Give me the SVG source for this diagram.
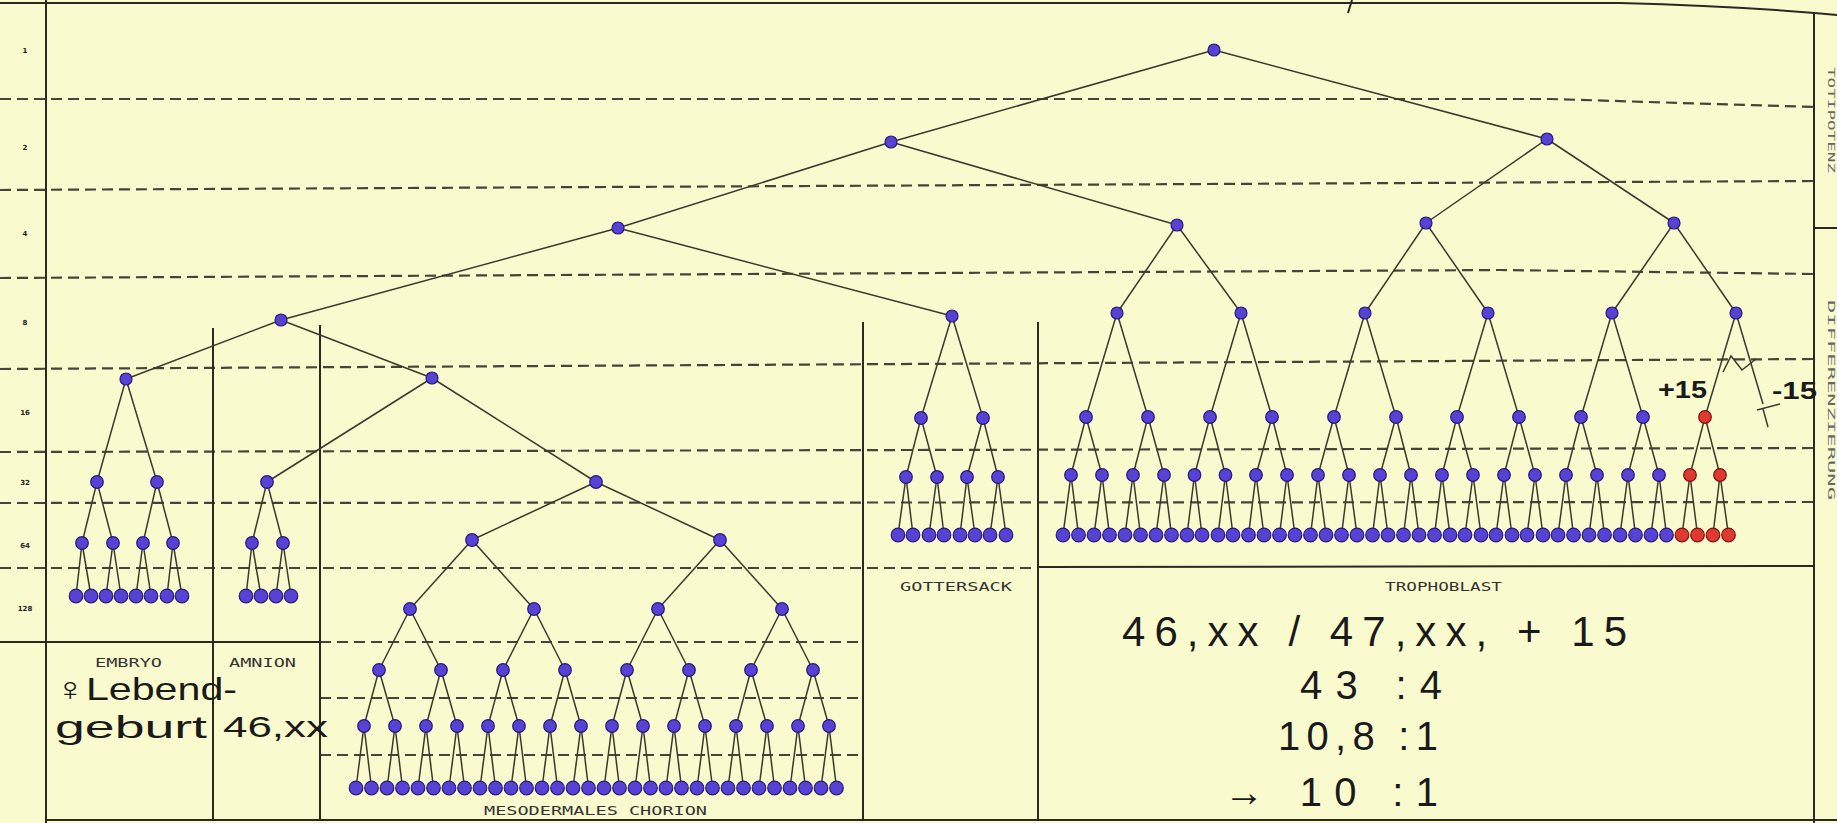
<svg xmlns="http://www.w3.org/2000/svg" width="1837" height="823" viewBox="0 0 1837 823">
<style>
.n{fill:#5842d6;stroke:#261a78;stroke-width:1.2}
.r{fill:#e0392f;stroke:#7a1410;stroke-width:1.2}
.e{stroke:#3a3a2c;stroke-width:1.5;fill:none}
.d{stroke:#44443a;stroke-width:2.2;stroke-dasharray:11 6;fill:none}
.s{stroke:#2a2a22;stroke-width:2;fill:none}
.lbl{font-family:"DejaVu Sans Mono","Liberation Mono",monospace;font-size:12px;fill:#333}
.hw{font-family:"Liberation Sans","DejaVu Sans",sans-serif;fill:#1a1a1a}
.ax{font-family:"DejaVu Sans",sans-serif;font-size:7px;font-weight:bold;fill:#222;text-anchor:middle}
.rt{font-family:"DejaVu Sans Mono",monospace;font-size:9px;fill:#666}
</style>
<rect width="1837" height="823" fill="#fafacf"/>
<g id="grid">
<path class="d" d="M0 99 L1550 99 L1814 107"/>
<path class="d" d="M0 190 L1814 181"/>
<path class="d" d="M0 278 L1500 270 L1814 274"/>
<path class="d" d="M0 369 L1814 359"/>
<path class="d" d="M0 452 L1814 448"/>
<path class="d" d="M0 503 L1814 502"/>
<path class="d" d="M0 568 L1038 568"/>
<path class="d" d="M320 642 L863 642"/>
<path class="d" d="M320 698 L863 698"/>
<path class="d" d="M320 755 L863 755"/>
<path class="s" d="M1038 567 L1814 566"/>
<path class="s" d="M0 642 L320 642"/>
<path class="s" d="M46 0 L46 823"/>
<path class="s" d="M213 328 L213 820"/>
<path class="s" d="M320 325 L320 820"/>
<path class="s" d="M863 322 L863 820"/>
<path class="s" d="M1038 322 L1038 820"/>
<path class="s" d="M1814 12 L1814 823"/>
<path class="s" d="M46 820 L1837 820"/>
<path class="s" stroke-width="3" d="M0 3 L1620 3 Q1740 6 1837 15"/>
<path class="s" d="M1352 0 L1348 13"/>
<path class="s" d="M1814 228 L1837 228"/>
</g>
<g id="axis">
<text class="ax" x="25" y="53">1</text>
<text class="ax" x="25" y="150">2</text>
<text class="ax" x="25" y="236">4</text>
<text class="ax" x="25" y="325">8</text>
<text class="ax" x="25" y="415">16</text>
<text class="ax" x="25" y="485">32</text>
<text class="ax" x="25" y="548">64</text>
<text class="ax" x="25" y="611">128</text>
</g>
<g id="connectors" class="e">
<line x1="1214" y1="50" x2="891" y2="142"/><line x1="1214" y1="50" x2="1547" y2="139"/>
<line x1="891" y1="142" x2="618" y2="228"/><line x1="891" y1="142" x2="1177" y2="225"/>
<line x1="1547" y1="139" x2="1426" y2="223"/><line x1="1547" y1="139" x2="1674" y2="223"/>
<line x1="618" y1="228" x2="281" y2="320"/><line x1="618" y1="228" x2="952" y2="316"/>
<line x1="1177" y1="225" x2="1117" y2="313"/><line x1="1177" y1="225" x2="1241" y2="313"/>
<line x1="1426" y1="223" x2="1365" y2="313"/><line x1="1426" y1="223" x2="1488" y2="313"/>
<line x1="1674" y1="223" x2="1612" y2="313"/><line x1="1674" y1="223" x2="1736" y2="313"/>
<line x1="281" y1="320" x2="126" y2="379"/><line x1="281" y1="320" x2="432" y2="378"/>
<line x1="432" y1="378" x2="267" y2="482"/><line x1="432" y1="378" x2="596" y2="482"/>
<line x1="126" y1="379" x2="97" y2="482"/><line x1="126" y1="379" x2="157" y2="482"/>
<line x1="97" y1="482" x2="82" y2="543"/><line x1="97" y1="482" x2="113" y2="543"/>
<line x1="157" y1="482" x2="143" y2="543"/><line x1="157" y1="482" x2="173" y2="543"/>
<line x1="82" y1="543" x2="76" y2="596"/><line x1="82" y1="543" x2="91" y2="596"/>
<line x1="113" y1="543" x2="106" y2="596"/><line x1="113" y1="543" x2="121" y2="596"/>
<line x1="143" y1="543" x2="136" y2="596"/><line x1="143" y1="543" x2="151" y2="596"/>
<line x1="173" y1="543" x2="167" y2="596"/><line x1="173" y1="543" x2="182" y2="596"/>
<line x1="267" y1="482" x2="252" y2="543"/><line x1="267" y1="482" x2="283" y2="543"/>
<line x1="252" y1="543" x2="246" y2="596"/><line x1="252" y1="543" x2="261" y2="596"/>
<line x1="283" y1="543" x2="276" y2="596"/><line x1="283" y1="543" x2="291" y2="596"/>
<line x1="596" y1="482" x2="472" y2="540"/><line x1="596" y1="482" x2="720" y2="540"/>
<line x1="472" y1="540" x2="410" y2="609"/><line x1="472" y1="540" x2="534" y2="609"/>
<line x1="720" y1="540" x2="658" y2="609"/><line x1="720" y1="540" x2="782" y2="609"/>
<line x1="410" y1="609" x2="379" y2="670"/><line x1="410" y1="609" x2="441" y2="670"/>
<line x1="534" y1="609" x2="503" y2="670"/><line x1="534" y1="609" x2="565" y2="670"/>
<line x1="658" y1="609" x2="627" y2="670"/><line x1="658" y1="609" x2="689" y2="670"/>
<line x1="782" y1="609" x2="751" y2="670"/><line x1="782" y1="609" x2="813" y2="670"/>
<line x1="379" y1="670" x2="364" y2="726"/><line x1="379" y1="670" x2="395" y2="726"/>
<line x1="441" y1="670" x2="426" y2="726"/><line x1="441" y1="670" x2="457" y2="726"/>
<line x1="503" y1="670" x2="488" y2="726"/><line x1="503" y1="670" x2="519" y2="726"/>
<line x1="565" y1="670" x2="550" y2="726"/><line x1="565" y1="670" x2="581" y2="726"/>
<line x1="627" y1="670" x2="612" y2="726"/><line x1="627" y1="670" x2="643" y2="726"/>
<line x1="689" y1="670" x2="674" y2="726"/><line x1="689" y1="670" x2="705" y2="726"/>
<line x1="751" y1="670" x2="736" y2="726"/><line x1="751" y1="670" x2="767" y2="726"/>
<line x1="813" y1="670" x2="798" y2="726"/><line x1="813" y1="670" x2="829" y2="726"/>
<line x1="364" y1="726" x2="356" y2="788"/><line x1="364" y1="726" x2="371.5" y2="788"/>
<line x1="395" y1="726" x2="387" y2="788"/><line x1="395" y1="726" x2="402.5" y2="788"/>
<line x1="426" y1="726" x2="418" y2="788"/><line x1="426" y1="726" x2="433.5" y2="788"/>
<line x1="457" y1="726" x2="449" y2="788"/><line x1="457" y1="726" x2="464.5" y2="788"/>
<line x1="488" y1="726" x2="480" y2="788"/><line x1="488" y1="726" x2="495.5" y2="788"/>
<line x1="519" y1="726" x2="511" y2="788"/><line x1="519" y1="726" x2="526.5" y2="788"/>
<line x1="550" y1="726" x2="542" y2="788"/><line x1="550" y1="726" x2="557.5" y2="788"/>
<line x1="581" y1="726" x2="573" y2="788"/><line x1="581" y1="726" x2="588.5" y2="788"/>
<line x1="612" y1="726" x2="604" y2="788"/><line x1="612" y1="726" x2="619.5" y2="788"/>
<line x1="643" y1="726" x2="635" y2="788"/><line x1="643" y1="726" x2="650.5" y2="788"/>
<line x1="674" y1="726" x2="666" y2="788"/><line x1="674" y1="726" x2="681.5" y2="788"/>
<line x1="705" y1="726" x2="697" y2="788"/><line x1="705" y1="726" x2="712.5" y2="788"/>
<line x1="736" y1="726" x2="728" y2="788"/><line x1="736" y1="726" x2="743.5" y2="788"/>
<line x1="767" y1="726" x2="759" y2="788"/><line x1="767" y1="726" x2="774.5" y2="788"/>
<line x1="798" y1="726" x2="790" y2="788"/><line x1="798" y1="726" x2="805.5" y2="788"/>
<line x1="829" y1="726" x2="821" y2="788"/><line x1="829" y1="726" x2="836.5" y2="788"/>
<line x1="952" y1="316" x2="921" y2="418"/><line x1="952" y1="316" x2="983" y2="418"/>
<line x1="921" y1="418" x2="906" y2="477"/><line x1="921" y1="418" x2="937" y2="477"/>
<line x1="983" y1="418" x2="967" y2="477"/><line x1="983" y1="418" x2="998" y2="477"/>
<line x1="906" y1="477" x2="898" y2="535"/><line x1="906" y1="477" x2="913" y2="535"/>
<line x1="937" y1="477" x2="929" y2="535"/><line x1="937" y1="477" x2="944" y2="535"/>
<line x1="967" y1="477" x2="960" y2="535"/><line x1="967" y1="477" x2="975" y2="535"/>
<line x1="998" y1="477" x2="990" y2="535"/><line x1="998" y1="477" x2="1006" y2="535"/>
<line x1="1117" y1="313" x2="1086" y2="417"/><line x1="1117" y1="313" x2="1148" y2="417"/>
<line x1="1241" y1="313" x2="1210" y2="417"/><line x1="1241" y1="313" x2="1272" y2="417"/>
<line x1="1365" y1="313" x2="1334" y2="417"/><line x1="1365" y1="313" x2="1396" y2="417"/>
<line x1="1488" y1="313" x2="1457" y2="417"/><line x1="1488" y1="313" x2="1519" y2="417"/>
<line x1="1612" y1="313" x2="1581" y2="417"/><line x1="1612" y1="313" x2="1643" y2="417"/>
<line x1="1736" y1="313" x2="1705" y2="417"/><line x1="1736" y1="313" x2="1763" y2="404"/>
<line x1="1086" y1="417" x2="1071" y2="475"/><line x1="1086" y1="417" x2="1102" y2="475"/>
<line x1="1148" y1="417" x2="1133" y2="475"/><line x1="1148" y1="417" x2="1164" y2="475"/>
<line x1="1210" y1="417" x2="1194.5" y2="475"/><line x1="1210" y1="417" x2="1225.5" y2="475"/>
<line x1="1272" y1="417" x2="1256" y2="475"/><line x1="1272" y1="417" x2="1287" y2="475"/>
<line x1="1334" y1="417" x2="1318" y2="475"/><line x1="1334" y1="417" x2="1349" y2="475"/>
<line x1="1396" y1="417" x2="1380" y2="475"/><line x1="1396" y1="417" x2="1411" y2="475"/>
<line x1="1457" y1="417" x2="1442" y2="475"/><line x1="1457" y1="417" x2="1473" y2="475"/>
<line x1="1519" y1="417" x2="1504" y2="475"/><line x1="1519" y1="417" x2="1535" y2="475"/>
<line x1="1581" y1="417" x2="1566" y2="475"/><line x1="1581" y1="417" x2="1597" y2="475"/>
<line x1="1643" y1="417" x2="1628" y2="475"/><line x1="1643" y1="417" x2="1659" y2="475"/>
<line x1="1705" y1="417" x2="1690" y2="475"/><line x1="1705" y1="417" x2="1720" y2="475"/>
<line x1="1071" y1="475" x2="1063" y2="535"/><line x1="1071" y1="475" x2="1078.5" y2="535"/>
<line x1="1102" y1="475" x2="1094" y2="535"/><line x1="1102" y1="475" x2="1109.5" y2="535"/>
<line x1="1133" y1="475" x2="1125" y2="535"/><line x1="1133" y1="475" x2="1140.5" y2="535"/>
<line x1="1164" y1="475" x2="1156" y2="535"/><line x1="1164" y1="475" x2="1171.5" y2="535"/>
<line x1="1194.5" y1="475" x2="1187" y2="535"/><line x1="1194.5" y1="475" x2="1202" y2="535"/>
<line x1="1225.5" y1="475" x2="1218" y2="535"/><line x1="1225.5" y1="475" x2="1233" y2="535"/>
<line x1="1256" y1="475" x2="1248.5" y2="535"/><line x1="1256" y1="475" x2="1264" y2="535"/>
<line x1="1287" y1="475" x2="1279.5" y2="535"/><line x1="1287" y1="475" x2="1295" y2="535"/>
<line x1="1318" y1="475" x2="1310.5" y2="535"/><line x1="1318" y1="475" x2="1326" y2="535"/>
<line x1="1349" y1="475" x2="1341.5" y2="535"/><line x1="1349" y1="475" x2="1357" y2="535"/>
<line x1="1380" y1="475" x2="1372.5" y2="535"/><line x1="1380" y1="475" x2="1388" y2="535"/>
<line x1="1411" y1="475" x2="1403.5" y2="535"/><line x1="1411" y1="475" x2="1419" y2="535"/>
<line x1="1442" y1="475" x2="1434.5" y2="535"/><line x1="1442" y1="475" x2="1450" y2="535"/>
<line x1="1473" y1="475" x2="1465" y2="535"/><line x1="1473" y1="475" x2="1481" y2="535"/>
<line x1="1504" y1="475" x2="1496" y2="535"/><line x1="1504" y1="475" x2="1512" y2="535"/>
<line x1="1535" y1="475" x2="1527" y2="535"/><line x1="1535" y1="475" x2="1543" y2="535"/>
<line x1="1566" y1="475" x2="1558" y2="535"/><line x1="1566" y1="475" x2="1573.5" y2="535"/>
<line x1="1597" y1="475" x2="1589" y2="535"/><line x1="1597" y1="475" x2="1604.5" y2="535"/>
<line x1="1628" y1="475" x2="1620" y2="535"/><line x1="1628" y1="475" x2="1635.5" y2="535"/>
<line x1="1659" y1="475" x2="1651" y2="535"/><line x1="1659" y1="475" x2="1666.5" y2="535"/>
<line x1="1690" y1="475" x2="1682" y2="535"/><line x1="1690" y1="475" x2="1697.5" y2="535"/>
<line x1="1720" y1="475" x2="1713" y2="535"/><line x1="1720" y1="475" x2="1728.5" y2="535"/>
</g>
<g id="marks" class="e" stroke="#1a1a1a" stroke-width="2">
<polyline points="1723,372 1731,356 1742,370 1756,359"/>
<line x1="1757" y1="410" x2="1780" y2="404"/>
<line x1="1763" y1="409" x2="1768" y2="427"/>
</g>
<g id="nodes">
<g id="n-root"><circle class="n" cx="1214" cy="50" r="6"/></g>
<g id="n-2a"><circle class="n" cx="891" cy="142" r="6"/></g>
<g id="n-2b"><circle class="n" cx="1547" cy="139" r="6"/></g>
<g id="n-4a"><circle class="n" cx="618" cy="228" r="6"/></g>
<g id="n-4b"><circle class="n" cx="1177" cy="225" r="6"/></g>
<g id="n-4c"><circle class="n" cx="1426" cy="223" r="6"/></g>
<g id="n-4d"><circle class="n" cx="1674" cy="223" r="6"/></g>
<g id="n-8a"><circle class="n" cx="281" cy="320" r="6"/></g>
<g id="n-ea"><circle class="n" cx="432" cy="378" r="6"/></g>
<g id="n-emb"><circle class="n" cx="126" cy="379" r="6"/></g>
<g id="n-emb-1"><circle class="n" cx="97" cy="482" r="6.3"/></g>
<g id="n-emb-2"><circle class="n" cx="157" cy="482" r="6.3"/></g>
<g id="n-emb-3"><circle class="n" cx="82" cy="543" r="6.3"/></g>
<g id="n-emb-4"><circle class="n" cx="113" cy="543" r="6.3"/></g>
<g id="n-emb-5"><circle class="n" cx="143" cy="543" r="6.3"/></g>
<g id="n-emb-6"><circle class="n" cx="173" cy="543" r="6.3"/></g>
<g id="n-emb-l1"><circle class="n" cx="76" cy="596" r="6.8"/></g>
<g id="n-emb-l2"><circle class="n" cx="91" cy="596" r="6.8"/></g>
<g id="n-emb-l3"><circle class="n" cx="106" cy="596" r="6.8"/></g>
<g id="n-emb-l4"><circle class="n" cx="121" cy="596" r="6.8"/></g>
<g id="n-emb-l5"><circle class="n" cx="136" cy="596" r="6.8"/></g>
<g id="n-emb-l6"><circle class="n" cx="151" cy="596" r="6.8"/></g>
<g id="n-emb-l7"><circle class="n" cx="167" cy="596" r="6.8"/></g>
<g id="n-emb-l8"><circle class="n" cx="182" cy="596" r="6.8"/></g>
<g id="n-amn"><circle class="n" cx="267" cy="482" r="6.3"/></g>
<g id="n-amn-1"><circle class="n" cx="252" cy="543" r="6.3"/></g>
<g id="n-amn-2"><circle class="n" cx="283" cy="543" r="6.3"/></g>
<g id="n-amn-l1"><circle class="n" cx="246" cy="596" r="6.8"/></g>
<g id="n-amn-l2"><circle class="n" cx="261" cy="596" r="6.8"/></g>
<g id="n-amn-l3"><circle class="n" cx="276" cy="596" r="6.8"/></g>
<g id="n-amn-l4"><circle class="n" cx="291" cy="596" r="6.8"/></g>
<g id="n-mes"><circle class="n" cx="596" cy="482" r="6.3"/></g>
<g id="n-mes-1"><circle class="n" cx="472" cy="540" r="6.3"/></g>
<g id="n-mes-2"><circle class="n" cx="720" cy="540" r="6.3"/></g>
<g id="n-mes-3"><circle class="n" cx="410" cy="609" r="6.3"/></g>
<g id="n-mes-4"><circle class="n" cx="534" cy="609" r="6.3"/></g>
<g id="n-mes-5"><circle class="n" cx="658" cy="609" r="6.3"/></g>
<g id="n-mes-6"><circle class="n" cx="782" cy="609" r="6.3"/></g>
<g id="n-mes-7"><circle class="n" cx="379" cy="670" r="6.3"/></g>
<g id="n-mes-8"><circle class="n" cx="441" cy="670" r="6.3"/></g>
<g id="n-mes-9"><circle class="n" cx="503" cy="670" r="6.3"/></g>
<g id="n-mes-10"><circle class="n" cx="565" cy="670" r="6.3"/></g>
<g id="n-mes-11"><circle class="n" cx="627" cy="670" r="6.3"/></g>
<g id="n-mes-12"><circle class="n" cx="689" cy="670" r="6.3"/></g>
<g id="n-mes-13"><circle class="n" cx="751" cy="670" r="6.3"/></g>
<g id="n-mes-14"><circle class="n" cx="813" cy="670" r="6.3"/></g>
<g id="n-mes-15"><circle class="n" cx="364" cy="726" r="6.3"/></g>
<g id="n-mes-16"><circle class="n" cx="395" cy="726" r="6.3"/></g>
<g id="n-mes-17"><circle class="n" cx="426" cy="726" r="6.3"/></g>
<g id="n-mes-18"><circle class="n" cx="457" cy="726" r="6.3"/></g>
<g id="n-mes-19"><circle class="n" cx="488" cy="726" r="6.3"/></g>
<g id="n-mes-20"><circle class="n" cx="519" cy="726" r="6.3"/></g>
<g id="n-mes-21"><circle class="n" cx="550" cy="726" r="6.3"/></g>
<g id="n-mes-22"><circle class="n" cx="581" cy="726" r="6.3"/></g>
<g id="n-mes-23"><circle class="n" cx="612" cy="726" r="6.3"/></g>
<g id="n-mes-24"><circle class="n" cx="643" cy="726" r="6.3"/></g>
<g id="n-mes-25"><circle class="n" cx="674" cy="726" r="6.3"/></g>
<g id="n-mes-26"><circle class="n" cx="705" cy="726" r="6.3"/></g>
<g id="n-mes-27"><circle class="n" cx="736" cy="726" r="6.3"/></g>
<g id="n-mes-28"><circle class="n" cx="767" cy="726" r="6.3"/></g>
<g id="n-mes-29"><circle class="n" cx="798" cy="726" r="6.3"/></g>
<g id="n-mes-30"><circle class="n" cx="829" cy="726" r="6.3"/></g>
<g id="n-mes-l1"><circle class="n" cx="356" cy="788" r="6.8"/></g>
<g id="n-mes-l2"><circle class="n" cx="371.5" cy="788" r="6.8"/></g>
<g id="n-mes-l3"><circle class="n" cx="387" cy="788" r="6.8"/></g>
<g id="n-mes-l4"><circle class="n" cx="402.5" cy="788" r="6.8"/></g>
<g id="n-mes-l5"><circle class="n" cx="418" cy="788" r="6.8"/></g>
<g id="n-mes-l6"><circle class="n" cx="433.5" cy="788" r="6.8"/></g>
<g id="n-mes-l7"><circle class="n" cx="449" cy="788" r="6.8"/></g>
<g id="n-mes-l8"><circle class="n" cx="464.5" cy="788" r="6.8"/></g>
<g id="n-mes-l9"><circle class="n" cx="480" cy="788" r="6.8"/></g>
<g id="n-mes-l10"><circle class="n" cx="495.5" cy="788" r="6.8"/></g>
<g id="n-mes-l11"><circle class="n" cx="511" cy="788" r="6.8"/></g>
<g id="n-mes-l12"><circle class="n" cx="526.5" cy="788" r="6.8"/></g>
<g id="n-mes-l13"><circle class="n" cx="542" cy="788" r="6.8"/></g>
<g id="n-mes-l14"><circle class="n" cx="557.5" cy="788" r="6.8"/></g>
<g id="n-mes-l15"><circle class="n" cx="573" cy="788" r="6.8"/></g>
<g id="n-mes-l16"><circle class="n" cx="588.5" cy="788" r="6.8"/></g>
<g id="n-mes-l17"><circle class="n" cx="604" cy="788" r="6.8"/></g>
<g id="n-mes-l18"><circle class="n" cx="619.5" cy="788" r="6.8"/></g>
<g id="n-mes-l19"><circle class="n" cx="635" cy="788" r="6.8"/></g>
<g id="n-mes-l20"><circle class="n" cx="650.5" cy="788" r="6.8"/></g>
<g id="n-mes-l21"><circle class="n" cx="666" cy="788" r="6.8"/></g>
<g id="n-mes-l22"><circle class="n" cx="681.5" cy="788" r="6.8"/></g>
<g id="n-mes-l23"><circle class="n" cx="697" cy="788" r="6.8"/></g>
<g id="n-mes-l24"><circle class="n" cx="712.5" cy="788" r="6.8"/></g>
<g id="n-mes-l25"><circle class="n" cx="728" cy="788" r="6.8"/></g>
<g id="n-mes-l26"><circle class="n" cx="743.5" cy="788" r="6.8"/></g>
<g id="n-mes-l27"><circle class="n" cx="759" cy="788" r="6.8"/></g>
<g id="n-mes-l28"><circle class="n" cx="774.5" cy="788" r="6.8"/></g>
<g id="n-mes-l29"><circle class="n" cx="790" cy="788" r="6.8"/></g>
<g id="n-mes-l30"><circle class="n" cx="805.5" cy="788" r="6.8"/></g>
<g id="n-mes-l31"><circle class="n" cx="821" cy="788" r="6.8"/></g>
<g id="n-mes-l32"><circle class="n" cx="836.5" cy="788" r="6.8"/></g>
<g id="n-got"><circle class="n" cx="952" cy="316" r="6"/></g>
<g id="n-got-1"><circle class="n" cx="921" cy="418" r="6.3"/></g>
<g id="n-got-2"><circle class="n" cx="983" cy="418" r="6.3"/></g>
<g id="n-got-3"><circle class="n" cx="906" cy="477" r="6.3"/></g>
<g id="n-got-4"><circle class="n" cx="937" cy="477" r="6.3"/></g>
<g id="n-got-5"><circle class="n" cx="967" cy="477" r="6.3"/></g>
<g id="n-got-6"><circle class="n" cx="998" cy="477" r="6.3"/></g>
<g id="n-got-l1"><circle class="n" cx="898" cy="535" r="6.8"/></g>
<g id="n-got-l2"><circle class="n" cx="913" cy="535" r="6.8"/></g>
<g id="n-got-l3"><circle class="n" cx="929" cy="535" r="6.8"/></g>
<g id="n-got-l4"><circle class="n" cx="944" cy="535" r="6.8"/></g>
<g id="n-got-l5"><circle class="n" cx="960" cy="535" r="6.8"/></g>
<g id="n-got-l6"><circle class="n" cx="975" cy="535" r="6.8"/></g>
<g id="n-got-l7"><circle class="n" cx="990" cy="535" r="6.8"/></g>
<g id="n-got-l8"><circle class="n" cx="1006" cy="535" r="6.8"/></g>
<g id="n-tro-1"><circle class="n" cx="1117" cy="313" r="6"/></g>
<g id="n-tro-2"><circle class="n" cx="1241" cy="313" r="6"/></g>
<g id="n-tro-3"><circle class="n" cx="1365" cy="313" r="6"/></g>
<g id="n-tro-4"><circle class="n" cx="1488" cy="313" r="6"/></g>
<g id="n-tro-5"><circle class="n" cx="1612" cy="313" r="6"/></g>
<g id="n-tro-6"><circle class="n" cx="1736" cy="313" r="6"/></g>
<g id="n-tro-a1"><circle class="n" cx="1086" cy="417" r="6.3"/></g>
<g id="n-tro-a2"><circle class="n" cx="1148" cy="417" r="6.3"/></g>
<g id="n-tro-a3"><circle class="n" cx="1210" cy="417" r="6.3"/></g>
<g id="n-tro-a4"><circle class="n" cx="1272" cy="417" r="6.3"/></g>
<g id="n-tro-a5"><circle class="n" cx="1334" cy="417" r="6.3"/></g>
<g id="n-tro-a6"><circle class="n" cx="1396" cy="417" r="6.3"/></g>
<g id="n-tro-a7"><circle class="n" cx="1457" cy="417" r="6.3"/></g>
<g id="n-tro-a8"><circle class="n" cx="1519" cy="417" r="6.3"/></g>
<g id="n-tro-a9"><circle class="n" cx="1581" cy="417" r="6.3"/></g>
<g id="n-tro-a10"><circle class="n" cx="1643" cy="417" r="6.3"/></g>
<g id="n-tro-a11"><circle class="r" cx="1705" cy="417" r="6.3"/></g>
<g id="n-tro-b1"><circle class="n" cx="1071" cy="475" r="6.3"/></g>
<g id="n-tro-b2"><circle class="n" cx="1102" cy="475" r="6.3"/></g>
<g id="n-tro-b3"><circle class="n" cx="1133" cy="475" r="6.3"/></g>
<g id="n-tro-b4"><circle class="n" cx="1164" cy="475" r="6.3"/></g>
<g id="n-tro-b5"><circle class="n" cx="1194.5" cy="475" r="6.3"/></g>
<g id="n-tro-b6"><circle class="n" cx="1225.5" cy="475" r="6.3"/></g>
<g id="n-tro-b7"><circle class="n" cx="1256" cy="475" r="6.3"/></g>
<g id="n-tro-b8"><circle class="n" cx="1287" cy="475" r="6.3"/></g>
<g id="n-tro-b9"><circle class="n" cx="1318" cy="475" r="6.3"/></g>
<g id="n-tro-b10"><circle class="n" cx="1349" cy="475" r="6.3"/></g>
<g id="n-tro-b11"><circle class="n" cx="1380" cy="475" r="6.3"/></g>
<g id="n-tro-b12"><circle class="n" cx="1411" cy="475" r="6.3"/></g>
<g id="n-tro-b13"><circle class="n" cx="1442" cy="475" r="6.3"/></g>
<g id="n-tro-b14"><circle class="n" cx="1473" cy="475" r="6.3"/></g>
<g id="n-tro-b15"><circle class="n" cx="1504" cy="475" r="6.3"/></g>
<g id="n-tro-b16"><circle class="n" cx="1535" cy="475" r="6.3"/></g>
<g id="n-tro-b17"><circle class="n" cx="1566" cy="475" r="6.3"/></g>
<g id="n-tro-b18"><circle class="n" cx="1597" cy="475" r="6.3"/></g>
<g id="n-tro-b19"><circle class="n" cx="1628" cy="475" r="6.3"/></g>
<g id="n-tro-b20"><circle class="n" cx="1659" cy="475" r="6.3"/></g>
<g id="n-tro-b21"><circle class="r" cx="1690" cy="475" r="6.3"/></g>
<g id="n-tro-b22"><circle class="r" cx="1720" cy="475" r="6.3"/></g>
<g id="n-tro-l1"><circle class="n" cx="1063" cy="535" r="6.8"/></g>
<g id="n-tro-l2"><circle class="n" cx="1078.5" cy="535" r="6.8"/></g>
<g id="n-tro-l3"><circle class="n" cx="1094" cy="535" r="6.8"/></g>
<g id="n-tro-l4"><circle class="n" cx="1109.5" cy="535" r="6.8"/></g>
<g id="n-tro-l5"><circle class="n" cx="1125" cy="535" r="6.8"/></g>
<g id="n-tro-l6"><circle class="n" cx="1140.5" cy="535" r="6.8"/></g>
<g id="n-tro-l7"><circle class="n" cx="1156" cy="535" r="6.8"/></g>
<g id="n-tro-l8"><circle class="n" cx="1171.5" cy="535" r="6.8"/></g>
<g id="n-tro-l9"><circle class="n" cx="1187" cy="535" r="6.8"/></g>
<g id="n-tro-l10"><circle class="n" cx="1202" cy="535" r="6.8"/></g>
<g id="n-tro-l11"><circle class="n" cx="1218" cy="535" r="6.8"/></g>
<g id="n-tro-l12"><circle class="n" cx="1233" cy="535" r="6.8"/></g>
<g id="n-tro-l13"><circle class="n" cx="1248.5" cy="535" r="6.8"/></g>
<g id="n-tro-l14"><circle class="n" cx="1264" cy="535" r="6.8"/></g>
<g id="n-tro-l15"><circle class="n" cx="1279.5" cy="535" r="6.8"/></g>
<g id="n-tro-l16"><circle class="n" cx="1295" cy="535" r="6.8"/></g>
<g id="n-tro-l17"><circle class="n" cx="1310.5" cy="535" r="6.8"/></g>
<g id="n-tro-l18"><circle class="n" cx="1326" cy="535" r="6.8"/></g>
<g id="n-tro-l19"><circle class="n" cx="1341.5" cy="535" r="6.8"/></g>
<g id="n-tro-l20"><circle class="n" cx="1357" cy="535" r="6.8"/></g>
<g id="n-tro-l21"><circle class="n" cx="1372.5" cy="535" r="6.8"/></g>
<g id="n-tro-l22"><circle class="n" cx="1388" cy="535" r="6.8"/></g>
<g id="n-tro-l23"><circle class="n" cx="1403.5" cy="535" r="6.8"/></g>
<g id="n-tro-l24"><circle class="n" cx="1419" cy="535" r="6.8"/></g>
<g id="n-tro-l25"><circle class="n" cx="1434.5" cy="535" r="6.8"/></g>
<g id="n-tro-l26"><circle class="n" cx="1450" cy="535" r="6.8"/></g>
<g id="n-tro-l27"><circle class="n" cx="1465" cy="535" r="6.8"/></g>
<g id="n-tro-l28"><circle class="n" cx="1481" cy="535" r="6.8"/></g>
<g id="n-tro-l29"><circle class="n" cx="1496" cy="535" r="6.8"/></g>
<g id="n-tro-l30"><circle class="n" cx="1512" cy="535" r="6.8"/></g>
<g id="n-tro-l31"><circle class="n" cx="1527" cy="535" r="6.8"/></g>
<g id="n-tro-l32"><circle class="n" cx="1543" cy="535" r="6.8"/></g>
<g id="n-tro-l33"><circle class="n" cx="1558" cy="535" r="6.8"/></g>
<g id="n-tro-l34"><circle class="n" cx="1573.5" cy="535" r="6.8"/></g>
<g id="n-tro-l35"><circle class="n" cx="1589" cy="535" r="6.8"/></g>
<g id="n-tro-l36"><circle class="n" cx="1604.5" cy="535" r="6.8"/></g>
<g id="n-tro-l37"><circle class="n" cx="1620" cy="535" r="6.8"/></g>
<g id="n-tro-l38"><circle class="n" cx="1635.5" cy="535" r="6.8"/></g>
<g id="n-tro-l39"><circle class="n" cx="1651" cy="535" r="6.8"/></g>
<g id="n-tro-l40"><circle class="n" cx="1666.5" cy="535" r="6.8"/></g>
<g id="n-tro-l41"><circle class="r" cx="1682" cy="535" r="6.8"/></g>
<g id="n-tro-l42"><circle class="r" cx="1697.5" cy="535" r="6.8"/></g>
<g id="n-tro-l43"><circle class="r" cx="1713" cy="535" r="6.8"/></g>
<g id="n-tro-l44"><circle class="r" cx="1728.5" cy="535" r="6.8"/></g>
</g>
<g id="labels">
<text class="lbl" x="95" y="667" textLength="67" lengthAdjust="spacingAndGlyphs">EMBRYO</text>
<text class="lbl" x="229" y="667" textLength="67" lengthAdjust="spacingAndGlyphs">AMNION</text>
<text class="lbl" x="900" y="591" textLength="112" lengthAdjust="spacingAndGlyphs">GOTTERSACK</text>
<text class="lbl" x="1385" y="591" textLength="117" lengthAdjust="spacingAndGlyphs">TROPHOBLAST</text>
<text class="lbl" x="484" y="815" textLength="223" lengthAdjust="spacingAndGlyphs">MESODERMALES CHORION</text>
<text class="rt" transform="translate(1828,67) rotate(90)" textLength="106" lengthAdjust="spacingAndGlyphs">TOTIPOTENZ</text>
<text class="rt" transform="translate(1828,300) rotate(90)" textLength="200" lengthAdjust="spacingAndGlyphs">DIFFERENZIERUNG</text>
</g>
<g id="notes" class="hw">
<text x="55" y="700" font-size="32" textLength="182" lengthAdjust="spacingAndGlyphs">♀Lebend-</text>
<text x="55" y="738" font-size="32" textLength="152" lengthAdjust="spacingAndGlyphs">geburt</text>
<text x="223" y="737" font-size="30" textLength="105" lengthAdjust="spacingAndGlyphs">46,xx</text>
<text x="1122" y="646" font-size="42" textLength="505" lengthAdjust="spacing">46,xx / 47,xx, + 15</text>
<text x="1300" y="699" font-size="40" textLength="142" lengthAdjust="spacing">43 :4</text>
<text x="1278" y="750" font-size="40" textLength="160" lengthAdjust="spacing">10,8 :1</text>
<text x="1224" y="806" font-size="40" textLength="214" lengthAdjust="spacing">→ 10 :1</text>
<text x="1658" y="398" font-size="24" font-weight="bold" textLength="49" lengthAdjust="spacingAndGlyphs">+15</text>
<text x="1772" y="399" font-size="24" font-weight="bold" textLength="45" lengthAdjust="spacingAndGlyphs">-15</text>
</g>
</svg>
